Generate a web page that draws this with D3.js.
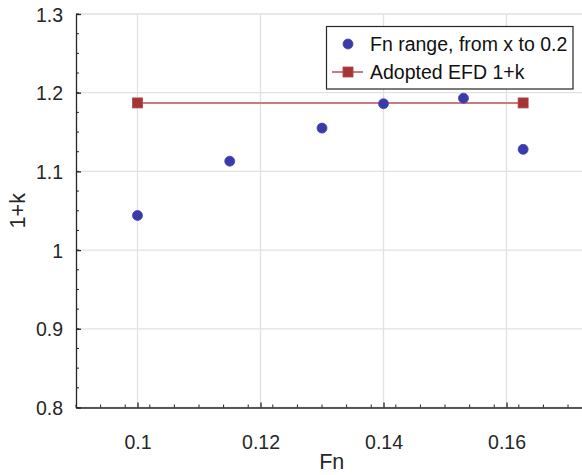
<!DOCTYPE html>
<html>
<head>
<meta charset="utf-8">
<script src="https://cdn.jsdelivr.net/npm/d3@7"></script>
<style>
  html, body { margin: 0; padding: 0; background: #fff; }
  svg { display: block; font-family: "Liberation Sans", Arial, Helvetica, sans-serif; }
</style>
</head>
<body>
<svg id="chart" width="582" height="475"></svg>
<script>
// Fn range sweep results
const fnValues = [0.1, 0.115, 0.13, 0.14, 0.153, 0.1627];
const kValues  = [1.044, 1.113, 1.155, 1.186, 1.193, 1.128];

// Adopted EFD form factor line
const adoptedFn = [0.1, 0.1627];
const adoptedK  = [1.187, 1.187];

// Axis ticks
const xTicks = [0.1, 0.12, 0.14, 0.16];
const xTickLabels = ["0.1", "0.12", "0.14", "0.16"];
const yTicks = [0.8, 0.9, 1.0, 1.1, 1.2, 1.3];
const yTickLabels = ["0.8", "0.9", "1", "1.1", "1.2", "1.3"];
const xDomain = [0.09, 0.1725];
const yDomain = [0.8, 1.3];

const seriesNames = ["Fn range, from x to 0.2", "Adopted EFD 1+k"];

const svg = d3.select("#chart");
const plotL = 76, plotR = 583.4, plotT = 14, plotB = 407.5;

const x = d3.scaleLinear().domain(xDomain).range([plotL, plotR]);
const y = d3.scaleLinear().domain(yDomain).range([plotB, plotT]);

const axisColor = "#262626";
const gridColor = "#e1e1e1";
const tickFont = 19.5;

// Grid lines
const grid = svg.append("g");
grid.selectAll("line.gx").data(xTicks).enter().append("line")
  .attr("x1", d => x(d)).attr("x2", d => x(d))
  .attr("y1", plotT).attr("y2", plotB)
  .attr("stroke", gridColor).attr("stroke-width", 1.3);
grid.selectAll("line.gy").data(yTicks).enter().append("line")
  .attr("x1", plotL).attr("x2", plotR)
  .attr("y1", d => y(d)).attr("y2", d => y(d))
  .attr("stroke", gridColor).attr("stroke-width", 1.3);

// Minor tick positions
const xMinor = d3.range(0, 21).map(i => +(xDomain[0] + 0.004 * i).toFixed(4))
  .filter(v => v <= xDomain[1]);
const yMinor = d3.range(0, 21).map(i => +(yDomain[0] + 0.025 * i).toFixed(4))
  .filter(v => v <= yDomain[1]);

// Bottom axis (ticks point inward)
const xAxis = d3.axisBottom(x).tickValues(xTicks)
  .tickFormat((d, i) => xTickLabels[i]).tickSizeInner(-5).tickSizeOuter(0);
const gx = svg.append("g").attr("transform", `translate(0,${plotB})`).call(xAxis);
gx.select(".domain").attr("stroke", axisColor).attr("stroke-width", 1.3);
gx.selectAll(".tick line").attr("stroke", axisColor).attr("stroke-width", 1.3);
gx.selectAll(".tick text").attr("fill", axisColor).attr("font-size", tickFont)
  .attr("dy", "0").attr("y", 41.5);
gx.append("g").selectAll("line").data(xMinor).enter().append("line")
  .attr("x1", d => x(d)).attr("x2", d => x(d))
  .attr("y1", 0).attr("y2", -3)
  .attr("stroke", axisColor).attr("stroke-width", 1);

// Left axis
const yAxis = d3.axisLeft(y).tickValues(yTicks)
  .tickFormat((d, i) => yTickLabels[i]).tickSizeInner(-5).tickSizeOuter(0).tickPadding(13);
const gy = svg.append("g").attr("transform", `translate(${plotL},0)`).call(yAxis);
gy.select(".domain").attr("stroke", axisColor).attr("stroke-width", 1.3);
gy.selectAll(".tick line").attr("stroke", axisColor).attr("stroke-width", 1.3);
gy.selectAll(".tick text").attr("fill", axisColor).attr("font-size", tickFont)
  .attr("dy", "0.36em");
gy.append("g").selectAll("line").data(yMinor).enter().append("line")
  .attr("x1", 0).attr("x2", 3)
  .attr("y1", d => y(d)).attr("y2", d => y(d))
  .attr("stroke", axisColor).attr("stroke-width", 1);

// Axis titles
svg.append("text").attr("x", (plotL + plotR) / 2 + 2).attr("y", 469)
  .attr("text-anchor", "middle").attr("font-size", 21.5).attr("fill", axisColor).text("Fn");
svg.append("text").attr("transform", `translate(25,${(plotT + plotB) / 2}) rotate(-90)`)
  .attr("text-anchor", "middle").attr("font-size", 21.5).attr("fill", axisColor).text("1+k");

// Adopted line + square markers
const lineColor = "#c97c7c";
const squareFill = "#a53434";
svg.append("path")
  .datum(adoptedFn.map((f, i) => [f, adoptedK[i]]))
  .attr("d", d3.line().x(d => x(d[0])).y(d => y(d[1])))
  .attr("fill", "none").attr("stroke", lineColor).attr("stroke-width", 2);
svg.selectAll("rect.sq").data(adoptedFn.map((f, i) => [f, adoptedK[i]])).enter().append("rect")
  .attr("x", d => x(d[0]) - 5).attr("y", d => y(d[1]) - 5)
  .attr("width", 10).attr("height", 10)
  .attr("fill", squareFill).attr("stroke", "#b04848").attr("stroke-width", 0.8);

// Sweep points
const dotFill = "#3a3aa8";
svg.selectAll("circle.pt").data(fnValues.map((f, i) => [f, kValues[i]])).enter().append("circle")
  .attr("cx", d => x(d[0])).attr("cy", d => y(d[1])).attr("r", 5)
  .attr("fill", dotFill).attr("stroke", "#4646b4").attr("stroke-width", 0.8);

// Legend
const lg = svg.append("g");
lg.append("rect").attr("x", 326.5).attr("y", 26.5).attr("width", 246.5).attr("height", 62.5)
  .attr("fill", "#fff").attr("stroke", axisColor).attr("stroke-width", 1.2);
lg.append("circle").attr("cx", 348).attr("cy", 44).attr("r", 5)
  .attr("fill", dotFill).attr("stroke", "#4646b4").attr("stroke-width", 0.8);
lg.append("line").attr("x1", 332).attr("x2", 363).attr("y1", 72).attr("y2", 72)
  .attr("stroke", lineColor).attr("stroke-width", 2);
lg.append("rect").attr("x", 343).attr("y", 67).attr("width", 10).attr("height", 10)
  .attr("fill", squareFill).attr("stroke", "#b04848").attr("stroke-width", 0.8);
lg.selectAll("text").data(seriesNames).enter().append("text")
  .attr("x", 370).attr("y", (d, i) => 50.5 + i * 28)
  .attr("font-size", 19.5).attr("fill", "#111").text(d => d);
</script>
</body>
</html>
